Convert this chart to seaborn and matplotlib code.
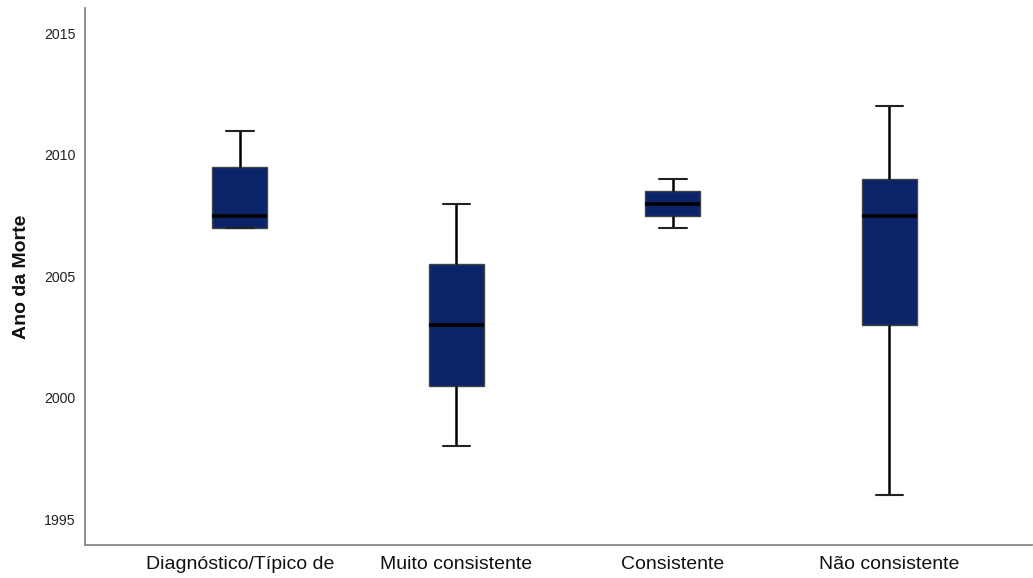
import matplotlib
matplotlib.use("Agg")
import matplotlib.pyplot as plt
import seaborn as sns
import pandas as pd

# Five-number summaries (min, Q1, median, Q3, max) for each category
categories = ["Diagnóstico/Típico de", "Muito consistente", "Consistente", "Não consistente"]
diagnostico = [2007, 2007, 2007.5, 2009.5, 2011]
muito_consistente = [1998, 2000.5, 2003, 2005.5, 2008]
consistente = [2007, 2007.5, 2008, 2008.5, 2009]
nao_consistente = [1996, 2003, 2007.5, 2009, 2012]

series = [diagnostico, muito_consistente, consistente, nao_consistente]
df = pd.DataFrame({
    "categoria": [c for c, vals in zip(categories, series) for _ in vals],
    "ano": [v for vals in series for v in vals],
})

sns.set_theme(style="white")
plt.rcParams["font.family"] = ["Liberation Sans", "DejaVu Sans"]

fig = plt.figure(figsize=(10.33, 5.78), dpi=100)
ax = fig.add_axes([0.0823, 0.057, 0.917, 0.929])

sns.boxplot(
    data=df, x="categoria", y="ano", order=categories,
    color="#0B2469", saturation=1, width=0.254, whis=(0, 100),
    linecolor="black", linewidth=1.0,
    boxprops=dict(facecolor="#0B2469", edgecolor="#444444", linewidth=1.0),
    medianprops=dict(color="black", linewidth=2.6),
    whiskerprops=dict(color="black", linewidth=1.8),
    capprops=dict(color="#222222", linewidth=1.5),
    ax=ax,
)

ax.set_ylim(1993.93, 2016.05)
ax.set_xlim(-0.715, 3.66)
ax.set_yticks([1995, 2000, 2005, 2010, 2015])
ax.set_yticklabels(["1995", "2000", "2005", "2010", "2015"], fontsize=10.2, color="#222222")
ax.tick_params(axis="x", labelsize=14, length=0, pad=8, labelcolor="#111111")
ax.tick_params(axis="y", length=0, pad=7)
ax.set_xlabel("")
ax.set_ylabel("Ano da Morte", fontsize=14, fontweight="bold", labelpad=10, color="#111111")

for side in ["top", "right"]:
    ax.spines[side].set_visible(False)
for side in ["left", "bottom"]:
    ax.spines[side].set_color("#888888")
    ax.spines[side].set_linewidth(1.3)

fig.savefig("out.png", dpi=100)
